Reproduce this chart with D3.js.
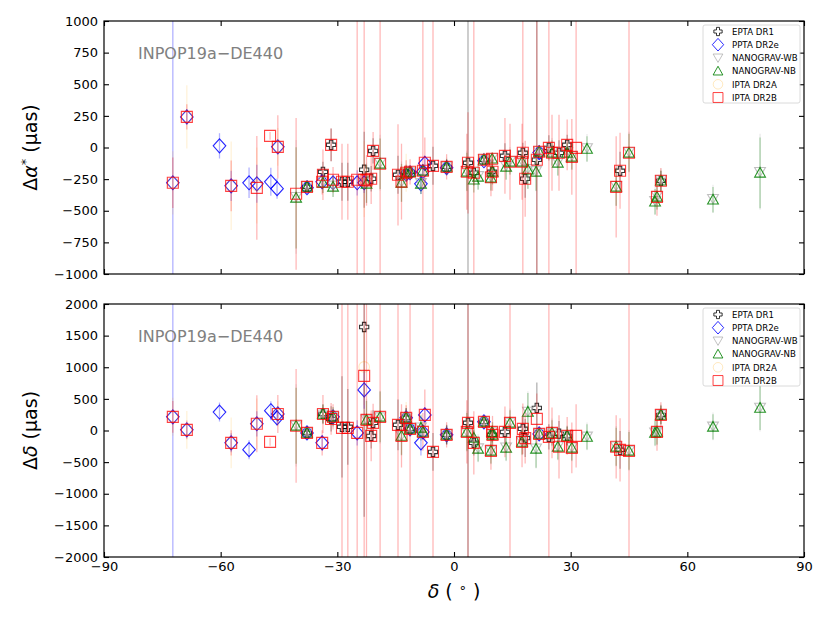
<!DOCTYPE html>
<html>
<head>
<meta charset="utf-8">
<script src="https://cdn.jsdelivr.net/npm/d3@7"></script>
<style>
  body { margin: 0; background: #fff; }
  svg { font-family: "DejaVu Sans", sans-serif; }
</style>
</head>
<body>
<div id="chart"></div>
<script>
// offsets of pulsar positions, INPOP19a - DE440
// each row: [declination (deg), d alpha* (uas), err, d delta (uas), err]
const eptaDR1 = [
  [-37.8, -311, 40, -38, 80], [-33.7, -192, 80, 262, 150], [-31.6, 21, 130, 183, 200],
  [-28.8, -271, 150, 58, 800], [-27.3, -271, 150, 58, 600], [-23.1, -176, 300, 1636, 3000],
  [-21.3, -247, 100, -85, 200], [-20.8, -27, 100, 121, 200], [-14.4, -216, 150, 89, 400],
  [-12.3, -200, 60, 200, 150], [-11.3, -192, 40, 26, 100], [-5.4, -145, 150, -338, 300],
  [-1.9, -153, 60, -69, 150], [3.6, -121, 3000, 121, 3000], [5.1, -200, 100, -195, 200],
  [7.7, -97, 20, 137, 40], [9.8, -192, 60, -69, 120], [13.1, -66, 100, -22, 200],
  [17.7, -42, 80, 26, 200], [18.3, -247, 150, -120, 300], [21.3, -97, 2000, 357, 400],
  [24.4, -3, 100, -101, 200], [27.0, -42, 100, -50, 200], [29.1, 21, 80, -85, 150],
  [42.7, -184, 150, -306, 300], [53.2, -263, 80, 247, 150]
];
const pptaDR2e = [
  [-72.3, -279, 3000, 216, 5000], [-68.7, 242, 60, 10, 80], [-60.3, 13, 100, 292, 150],
  [-57.3, -303, 120, -195, 150], [-52.7, -279, 120, -303, 150], [-50.7, -287, 150, 106, 200],
  [-47.1, -271, 110, 313, 150], [-45.5, -326, 80, 200, 120], [-45.3, 5, 40, 262, 60],
  [-37.8, -318, 30, -38, 60], [-33.9, -271, 60, -195, 120], [-31.1, -279, 60, 216, 100],
  [-24.9, -279, 100, -38, 200], [-23.1, -279, 80, 642, 300], [-12.3, -210, 60, 200, 150],
  [-11.3, -200, 40, 26, 100], [-8.5, -287, 80, -195, 200], [-8.0, -190, 40, -22, 80],
  [-7.5, -125, 60, 247, 120], [-1.9, -160, 60, -69, 150], [7.7, -105, 20, 137, 40],
  [21.9, -40, 30, -54, 60]
];
const nanogravWB = [
  [-40.6, -390, 450, 80, 650], [-37.8, -305, 40, -30, 70], [-33.7, -270, 90, 255, 160],
  [-31.1, -300, 90, 210, 160], [-22.5, -280, 160, 175, 320], [-19.0, -120, 220, 210, 420],
  [-13.5, -270, 160, -80, 320], [-12.3, -200, 70, 195, 160], [-11.3, -190, 50, 30, 110],
  [-8.5, -280, 90, 50, 210], [-1.9, -150, 70, -60, 160], [3.3, -185, 160, -15, 320],
  [6.2, -225, 110, -280, 220], [7.7, -92, 25, 130, 50], [9.8, -82, 35, -15, 70],
  [9.5, -232, 110, -315, 220], [13.4, -146, 110, -266, 220], [14.4, -106, 110, 128, 220],
  [17.5, -106, 110, -172, 220], [19.0, -168, 160, 300, 320], [21.1, -185, 160, -282, 320],
  [21.9, -28, 35, -48, 70], [25.2, -35, 110, -30, 220], [26.7, -114, 110, -250, 220],
  [29.1, -35, 90, -78, 160], [30.3, -67, 110, -266, 220], [34.2, -4, 110, -94, 220],
  [41.7, -303, 160, -250, 320], [45.0, -35, 160, -315, 320], [53.2, -256, 90, 254, 160],
  [52.2, -382, 110, -15, 220], [51.7, -421, 110, -30, 220], [66.6, -405, 110, 65, 220],
  [78.7, -192, 300, 364, 380]
];
const nanogravNB = [
  [-40.6, -398, 400, 74, 600], [-37.8, -311, 30, -38, 60], [-33.7, -279, 80, 262, 150],
  [-31.1, -311, 80, 216, 150], [-22.5, -287, 150, 168, 300], [-19.0, -129, 200, 216, 400],
  [-13.5, -279, 150, -85, 300], [-12.3, -205, 60, 200, 150], [-11.3, -195, 40, 26, 100],
  [-8.5, -287, 80, 42, 200], [-8.0, -184, 40, -22, 80], [-1.9, -153, 60, -69, 150],
  [3.3, -192, 150, -22, 300], [5.1, -255, 100, -117, 200], [6.2, -232, 100, -290, 200],
  [7.7, -97, 20, 137, 40], [9.8, -89, 30, -22, 60], [9.9, -192, 100, -69, 200],
  [9.5, -240, 100, -322, 200], [13.4, -153, 100, -274, 200], [14.4, -113, 100, 121, 200],
  [17.5, -113, 100, -180, 200], [19.0, -176, 150, 294, 300], [21.1, -192, 150, -290, 300],
  [21.9, -34, 30, -54, 60], [25.2, -42, 100, -38, 200], [26.7, -121, 100, -258, 200],
  [29.1, -42, 80, -85, 150], [30.3, -74, 100, -274, 200], [34.2, -11, 100, -101, 200],
  [41.7, -311, 150, -258, 300], [45.0, -42, 150, -322, 300], [53.2, -263, 80, 247, 150],
  [52.2, -390, 100, -22, 200], [51.7, -429, 100, -38, 200], [66.6, -413, 100, 58, 200],
  [78.7, -200, 280, 357, 350]
];
const iptaDR2A = [
  [-72.3, -279, 250, 216, 300], [-68.7, 242, 250, 10, 300], [-57.3, -303, 350, -195, 400],
  [-50.7, -300, 300, 106, 400], [-45.3, 5, 150, 262, 200], [-23.1, -250, 300, 1005, 600],
  [-12.3, -200, 150, 200, 250], [7.7, -97, 60, 137, 100]
];
const iptaDR2B = [
  [-72.3, -279, 200, 216, 250], [-68.7, 242, 100, 10, 150], [-57.3, -303, 200, -195, 200],
  [-50.7, -319, 410, 106, 450], [-47.3, 92, 30, -180, 60], [-45.3, 5, 250, 262, 300],
  [-40.6, -366, 600, 74, 900], [-37.8, -311, 30, -38, 60], [-33.7, -216, 200, 262, 300],
  [-33.9, -271, 100, -195, 200], [-31.6, 21, 130, 183, 250], [-31.1, -255, 100, 216, 200],
  [-28.8, -271, 300, 42, 3000], [-27.3, -271, 300, 42, 3000], [-24.9, -255, 3000, -38, 3000],
  [-23.1, -255, 3000, 863, 3000], [-22.5, -260, 200, 168, 3000], [-21.3, -247, 200, -85, 400],
  [-20.8, -27, 150, 121, 300], [-19.0, -129, 3000, 216, 3000], [-14.4, -216, 400, 89, 3000],
  [-13.5, -270, 300, -85, 500], [-12.3, -200, 100, 200, 200], [-11.3, -192, 100, 26, 3000],
  [-8.0, -184, 3000, -22, 300], [-7.5, -121, 200, 247, 400], [-5.4, -145, 3000, -338, 3000],
  [-1.9, -153, 100, -69, 200], [3.6, -121, 400, 121, 3000], [3.3, -192, 300, -22, 500],
  [5.1, -200, 3000, -195, 500], [7.7, -97, 30, 137, 60], [9.8, -89, 50, -22, 100],
  [9.9, -192, 150, -69, 300], [9.5, -235, 150, -322, 300], [13.1, -66, 300, -22, 400],
  [14.4, -113, 300, 121, 3000], [17.7, -42, 3000, 26, 400], [17.5, -113, 300, -180, 400],
  [18.3, -247, 300, -120, 400], [21.3, -97, 3000, 184, 400], [21.9, -34, 50, -54, 100],
  [24.4, -3, 3000, -101, 3000], [25.2, -42, 300, -38, 400], [27.0, -42, 300, -258, 500],
  [29.1, 21, 200, -85, 300], [30.3, -74, 300, -274, 400], [31.4, -3, 3000, -85, 500],
  [41.7, -311, 400, -258, 500], [42.7, -184, 300, -306, 500], [45.0, -42, 3000, -322, 3000],
  [53.2, -263, 100, 247, 200], [52.2, -390, 150, -22, 300]
];

const xTicks = [-90, -60, -30, 0, 30, 60, 90];
const raTicks = [-1000, -750, -500, -250, 0, 250, 500, 750, 1000];
const decTicks = [-2000, -1500, -1000, -500, 0, 500, 1000, 1500, 2000];

const width = 830, height = 623;
const left = 104, right = 804;

// marker shapes, centred on 0,0
const symbols = {
  plus: 'M-1.7,-4.6H1.7V-1.7H4.6V1.7H1.7V4.6H-1.7V1.7H-4.6V-1.7H-1.7Z',
  diamond: 'M0,-7L6.3,0L0,7L-6.3,0Z',
  triDown: 'M0,5L5.4,-4.3H-5.4Z',
  triUp: 'M0,-5.4L5.4,4.3H-5.4Z',
  circle: 'M5.3,0A5.3,5.3 0 1,1 -5.3,0A5.3,5.3 0 1,1 5.3,0Z',
  square: 'M-5.5,-5.5H5.5V5.5H-5.5Z'
};

const datasets = [
  { name: 'EPTA DR1', data: eptaDR1, color: '#000000', shape: 'plus', mOpacity: 0.8, eOpacity: 0.3 },
  { name: 'PPTA DR2e', data: pptaDR2e, color: '#0000ff', shape: 'diamond', mOpacity: 0.85, eOpacity: 0.3 },
  { name: 'NANOGRAV-WB', data: nanogravWB, color: '#b0b0b0', shape: 'triDown', mOpacity: 0.8, eOpacity: 0.25 },
  { name: 'NANOGRAV-NB', data: nanogravNB, color: '#008000', shape: 'triUp', mOpacity: 0.85, eOpacity: 0.3 },
  { name: 'IPTA DR2A', data: iptaDR2A, color: '#ffa500', shape: 'circle', mOpacity: 0.25, eOpacity: 0.15 },
  { name: 'IPTA DR2B', data: iptaDR2B, color: '#ff0000', shape: 'square', mOpacity: 0.75, eOpacity: 0.28 }
];

const svg = d3.select('#chart').append('svg')
  .attr('width', width)
  .attr('height', height);

const x = d3.scaleLinear().domain([-90, 90]).range([left, right]);

const panels = [
  { top: 21, bottom: 274, domain: [-1000, 1000], ticks: raTicks, vi: 1, ei: 2, id: 'ra' },
  { top: 304, bottom: 557, domain: [-2000, 2000], ticks: decTicks, vi: 3, ei: 4, id: 'dec' }
];

panels.forEach((p, pi) => {
  const y = d3.scaleLinear().domain(p.domain).range([p.bottom, p.top]);
  p.y = y;

  svg.append('clipPath').attr('id', 'clip-' + p.id)
    .append('rect')
    .attr('x', left).attr('y', p.top)
    .attr('width', right - left).attr('height', p.bottom - p.top);

  const g = svg.append('g').attr('clip-path', `url(#clip-${p.id})`);

  // error bars first, then markers, dataset by dataset
  datasets.forEach(ds => {
    const dg = g.append('g');
    dg.selectAll('line')
      .data(ds.data)
      .enter()
      .append('line')
      .attr('x1', d => x(d[0]))
      .attr('x2', d => x(d[0]))
      .attr('y1', d => y(d[p.vi] - d[p.ei]))
      .attr('y2', d => y(d[p.vi] + d[p.ei]))
      .attr('stroke', ds.color)
      .attr('stroke-opacity', ds.eOpacity)
      .attr('stroke-width', 1.3);
    dg.selectAll('path')
      .data(ds.data)
      .enter()
      .append('path')
      .attr('d', symbols[ds.shape])
      .attr('transform', d => `translate(${x(d[0])},${y(d[p.vi])})`)
      .attr('fill', 'none')
      .attr('stroke', ds.color)
      .attr('stroke-opacity', ds.mOpacity)
      .attr('stroke-width', 1.1);
  });

  // axes with inward ticks on all four sides
  const tickFont = g2 => g2.selectAll('text')
    .attr('font-size', '13px')
    .attr('font-family', '"DejaVu Sans", sans-serif')
    .attr('fill', '#000');

  svg.append('g')
    .attr('transform', `translate(0,${p.bottom})`)
    .call(d3.axisBottom(x).tickValues(xTicks).tickSize(-5).tickPadding(5)
      .tickFormat(pi === 1 ? d3.format('d') : ''))
    .call(g2 => g2.select('.domain').remove())
    .call(tickFont);

  svg.append('g')
    .attr('transform', `translate(0,${p.top})`)
    .call(d3.axisTop(x).tickValues(xTicks).tickSize(-5).tickFormat(''))
    .call(g2 => g2.select('.domain').remove());

  svg.append('g')
    .attr('transform', `translate(${left},0)`)
    .call(d3.axisLeft(y).tickValues(p.ticks).tickSize(-5).tickPadding(6)
      .tickFormat(d3.format('d')))
    .call(g2 => g2.select('.domain').remove())
    .call(tickFont);

  svg.append('g')
    .attr('transform', `translate(${right},0)`)
    .call(d3.axisRight(y).tickValues(p.ticks).tickSize(-5).tickFormat(''))
    .call(g2 => g2.select('.domain').remove());

  svg.selectAll('.tick line').attr('stroke', '#000').attr('stroke-width', 1.1);

  // frame
  svg.append('rect')
    .attr('x', left).attr('y', p.top)
    .attr('width', right - left).attr('height', p.bottom - p.top)
    .attr('fill', 'none')
    .attr('stroke', '#000')
    .attr('stroke-width', 1.2);

  // model label
  svg.append('text')
    .attr('x', 138)
    .attr('y', p.top + 38)
    .attr('font-size', '16px')
    .attr('fill', '#808080')
    .text('INPOP19a\u2212DE440');

  // legend
  const lg = svg.append('g').attr('transform', `translate(703,${p.top + 4})`);
  lg.append('rect')
    .attr('width', 97).attr('height', 78)
    .attr('rx', 2)
    .attr('fill', '#fff')
    .attr('fill-opacity', 0.8)
    .attr('stroke', '#d0d0d0')
    .attr('stroke-width', 0.8);
  datasets.forEach((ds, i) => {
    const cy = 6.5 + i * 13.2;
    lg.append('path')
      .attr('d', symbols[ds.shape])
      .attr('transform', `translate(15,${cy}) scale(0.9)`)
      .attr('fill', 'none')
      .attr('stroke', ds.color)
      .attr('stroke-opacity', ds.mOpacity)
      .attr('stroke-width', 1.1);
    lg.append('text')
      .attr('x', 29)
      .attr('y', cy + 3.3)
      .attr('font-size', '8.6px')
      .attr('fill', '#000')
      .text(ds.name);
  });
});

// axis titles
const raTitle = svg.append('text')
  .attr('transform', `translate(37,${(panels[0].top + panels[0].bottom) / 2}) rotate(-90)`)
  .attr('text-anchor', 'middle')
  .attr('font-size', '19px');
raTitle.append('tspan').text('\u0394');
raTitle.append('tspan').attr('font-style', 'italic').text('\u03b1');
raTitle.append('tspan').attr('dy', -7).attr('font-size', '13px').text('*');
raTitle.append('tspan').attr('dy', 7).text(' (\u03bcas)');

const decTitle = svg.append('text')
  .attr('transform', `translate(37,${(panels[1].top + panels[1].bottom) / 2}) rotate(-90)`)
  .attr('text-anchor', 'middle')
  .attr('font-size', '19px');
decTitle.append('tspan').text('\u0394');
decTitle.append('tspan').attr('font-style', 'italic').text('\u03b4');
decTitle.append('tspan').text(' (\u03bcas)');

const xTitle = svg.append('text')
  .attr('x', 454)
  .attr('y', 598)
  .attr('text-anchor', 'middle')
  .attr('font-size', '19px');
xTitle.append('tspan').attr('font-style', 'italic').text('\u03b4');
xTitle.append('tspan').text(' ( ');
xTitle.append('tspan').attr('dy', -6).attr('font-size', '13px').text('\u2218');
xTitle.append('tspan').attr('dy', 6).text(' )');
</script>
</body>
</html>
